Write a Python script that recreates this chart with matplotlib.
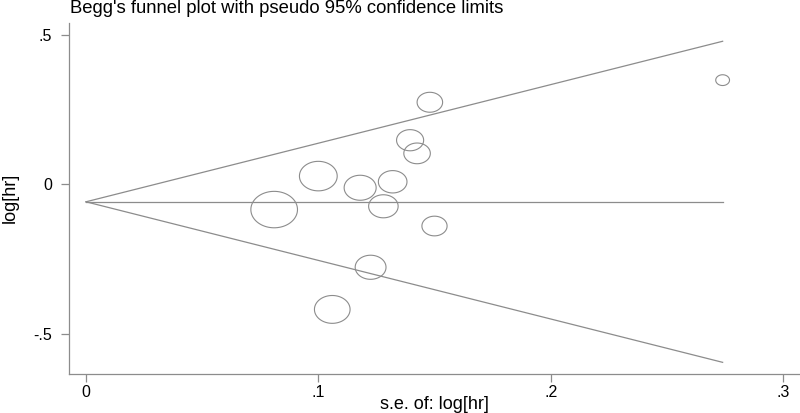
import numpy as np
import matplotlib
matplotlib.use("Agg")
import matplotlib.pyplot as plt
from matplotlib.path import Path

# study estimates
se_loghr = [0.274, 0.148, 0.1395, 0.1425, 0.100, 0.118, 0.132, 0.081, 0.128, 0.150, 0.1225, 0.106]
log_hr = [0.349, 0.275, 0.148, 0.104, 0.028, -0.011, 0.009, -0.084, -0.073, -0.139, -0.277, -0.418]
pooled = -0.058

plt.rcParams['font.family'] = ['Liberation Sans', 'DejaVu Sans']
grey = '#8c8c8c'

fig = plt.figure(figsize=(8, 4.13), dpi=100)
ax = fig.add_axes([0.08625, 0.0952, 0.91375, 0.849])

# funnel: pooled line and pseudo 95% limits
se_max = max(se_loghr)
s = np.array([0, se_max])
ax.plot(s, [pooled, pooled], color=grey, lw=0.9)
ax.plot(s, pooled + 1.96 * s, color=grey, lw=0.9)
ax.plot(s, pooled - 1.96 * s, color=grey, lw=0.9)

# hollow markers, size by weight (1/se^2); picture is stretched horizontally
t = np.linspace(0, 2 * np.pi, 80)
ellipse = Path(np.column_stack([np.cos(t), np.sin(t) / 1.28]), closed=True)
se = np.array(se_loghr)
diam = 2.72 / se
ax.scatter(se, log_hr, s=diam ** 2, marker=ellipse, facecolors='none',
           edgecolors=grey, linewidths=0.8)

ax.set_xlim(-0.0073, 0.3073)
ax.set_ylim(-0.633, 0.54)
ax.set_xticks([0, 0.1, 0.2, 0.3])
ax.set_xticklabels(['0', '.1', '.2', '.3'])
ax.set_yticks([-0.5, 0, 0.5])
ax.set_yticklabels(['-.5', '0', '.5'])

for side in ['top', 'right']:
    ax.spines[side].set_visible(False)
for side in ['left', 'bottom']:
    ax.spines[side].set_color(grey)
    ax.spines[side].set_linewidth(0.9)
ax.tick_params(axis='both', colors=grey, labelcolor='black', labelsize=11.5,
               length=6, width=0.9)
ax.tick_params(axis='y', pad=6)
ax.tick_params(axis='x', pad=2)

# axis titles placed in figure pixels
fig.text(434.5 / 800, 1 - 409 / 413, 's.e. of: log[hr]', fontsize=13,
         ha='center', va='baseline')
fig.text(1.5 / 800, 0.52, 'log[hr]', fontsize=13, rotation=90,
         ha='left', va='center')

fig.text(0.0875, 0.968, "Begg's funnel plot with pseudo 95% confidence limits",
         fontsize=13.3, va='baseline', ha='left')

plt.savefig('out.png', dpi=100)
